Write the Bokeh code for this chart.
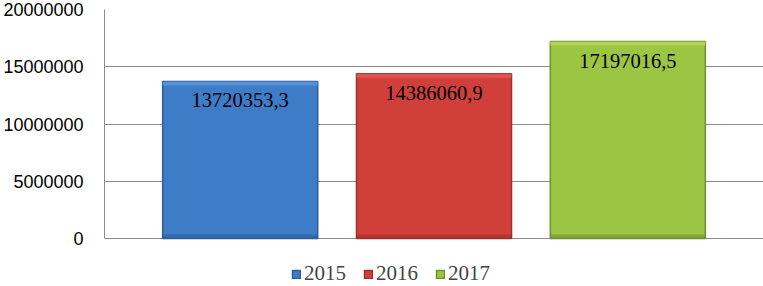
from bokeh.plotting import figure
from bokeh.models import (ColumnDataSource, FactorRange, Range1d, FixedTicker,
                          Legend, LegendItem, PrintfTickFormatter)
from bokeh.core.properties import value
from bokeh.embed import file_html
from bokeh.resources import INLINE

# ---- data ----
years = ["2015", "2016", "2017"]
amounts = [13720353.3, 14386060.9, 17197016.5]
y_ticks = [0, 5000000, 10000000, 15000000, 20000000]
y_max = 20000000

# ---- styles ----
fill_colors = ["#3f7cc8", "#d13f3b", "#9cc543"]
top_colors = ["#5e97dc", "#e35e58", "#b5da62"]
edge_colors = ["#2b5d9b", "#9e2e2b", "#6f9130"]

# layout (pixels)
frame_top, zero_px, fig_h = 9, 238, 286
below_px = fig_h - zero_px
y_min = -y_max * below_px / (zero_px - frame_top)

labels = [f"{v:.1f}".replace(".", ",") for v in amounts]
band = [v - 350000 for v in amounts]
shade = [350000] * 3

src = ColumnDataSource(dict(x=years, top=amounts, fill=fill_colors,
                            topc=top_colors, edge=edge_colors,
                            lab=labels, band=band, shade=shade))

p = figure(width=763, height=fig_h, output_backend="svg", toolbar_location=None,
           x_range=FactorRange(factors=years, range_padding=0.4 / 3),
           y_range=Range1d(y_min, y_max),
           min_border_left=103, min_border_right=0, min_border_top=frame_top,
           min_border_bottom=0)
p.outline_line_color = None
p.background_fill_color = "white"
p.border_fill_color = "white"

p.xaxis.visible = False
p.xgrid.visible = False
p.ygrid.grid_line_color = "#8c8c8c"
p.ygrid.grid_line_width = 1

yax = p.yaxis[0]
yax.ticker = FixedTicker(ticks=y_ticks)
yax.bounds = (0, y_max)
yax.formatter = PrintfTickFormatter(format="%d")
yax.axis_line_color = "#8c8c8c"
yax.major_tick_line_color = None
yax.minor_tick_line_color = None
yax.major_tick_out = 0
yax.major_tick_in = 0
yax.major_label_standoff = 21
yax.major_label_text_font = "Liberation Sans"
yax.major_label_text_font_size = "18px"
yax.major_label_text_color = "#000000"

r = p.vbar(x="x", top="top", bottom=0, width=0.8, source=src,
           fill_color="fill", line_color="edge", line_width=1.5)
p.vbar(x="x", top="top", bottom="band", width=0.8, source=src,
       fill_color="topc", line_color=None, fill_alpha=0.8)
p.vbar(x="x", top="shade", bottom=0, width=0.8, source=src,
       fill_color="edge", line_color=None, fill_alpha=0.6)

p.text(x="x", y="top", text="lab", source=src, text_align="center",
       text_baseline="top", y_offset=12,
       text_font=value("Liberation Serif"), text_font_size="20.5px",
       text_color="#000000")

items = [LegendItem(label=yr, renderers=[r], index=i) for i, yr in enumerate(years)]

legend = Legend(items=items, orientation="horizontal", location=(187, 0),
                glyph_width=10, glyph_height=10, label_standoff=3, spacing=17,
                label_text_font="Liberation Serif", label_text_font_size="21px",
                label_height=21, padding=0, margin=0,
                background_fill_alpha=0, border_line_color=None)
p.add_layout(legend, "center")

html = file_html(p, INLINE)
open("out.html", "w").write(html)
